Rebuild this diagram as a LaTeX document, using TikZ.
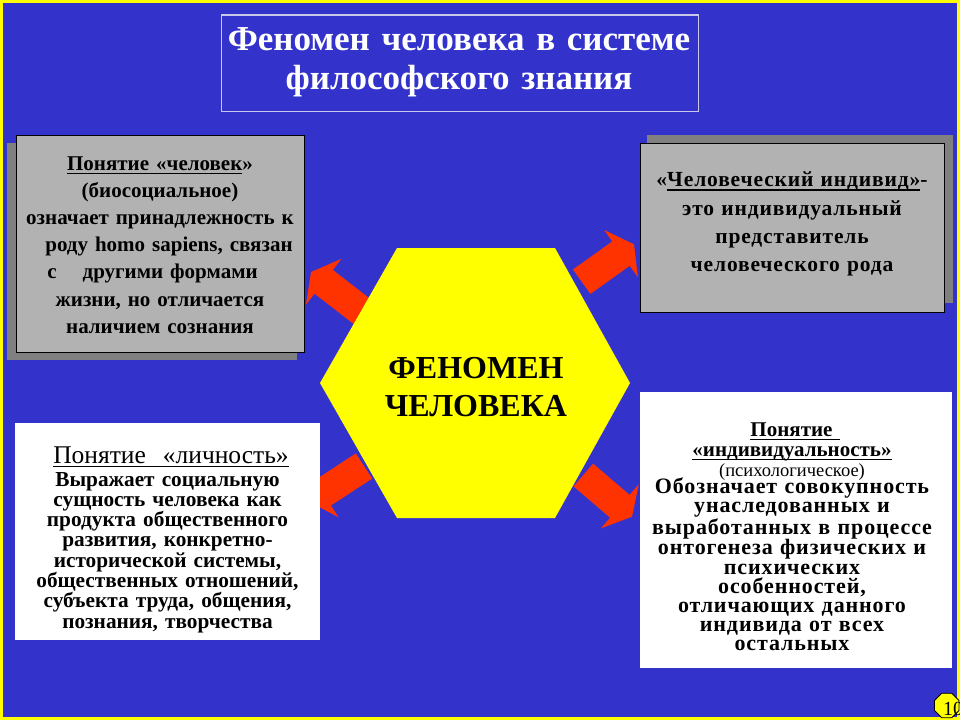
\documentclass[tikz,border=0pt]{standalone}
\usepackage{fontspec}
\setmainfont{Liberation Serif}
\newfontfamily\spc[LetterSpace=4]{Liberation Serif}
\usetikzlibrary{calc,shapes.geometric}
\newcommand\ulx[1]{\leavevmode\setbox0\hbox{#1}\rlap{\rule[-3.8pt]{\wd0}{1.2pt}}\box0}
\definecolor{bgblue}{RGB}{51,51,204}
\definecolor{boxgray}{RGB}{178,178,178}
\definecolor{shadowgray}{RGB}{128,128,128}
\definecolor{arrowred}{RGB}{255,51,0}
\definecolor{titleline}{RGB}{200,200,235}
\definecolor{hexyellow}{RGB}{255,255,0}
\tikzset{
  graybox/.style={fill=boxgray,draw=black,line width=1pt},
  shadowbox/.style={fill=shadowgray},
  whitebox/.style={fill=white},
  txt/.style={anchor=base,align=center,inner sep=0pt,text=black},
  titletxt/.style={txt,text=white,font=\bfseries\fontsize{35}{39}\selectfont,text width=520pt},
}
\newcommand\blkarrow[2]{%
  \coordinate (#1h) at ($(#2)!16pt!(#1)$);
  \fill[arrowred] ($(#1)!15pt!90:(#2)$) -- ($(#1h)!15pt!-90:(#1)$) -- ($(#1h)!29pt!-90:(#1)$)
     -- (#2) -- ($(#1h)!29pt!90:(#1)$) -- ($(#1h)!15pt!90:(#1)$) -- ($(#1)!15pt!-90:(#2)$) -- cycle;
}
\begin{document}
\begin{tikzpicture}[x=1pt,y=-1pt]
\useasboundingbox (0,0) rectangle (960,720);
\fill[bgblue] (0,0) rectangle (960,720);
\draw[hexyellow,line width=3pt] (1.5,1.5) rectangle (958.5,718.5);

% title
\draw[titleline,line width=1.2pt] (221.7,15) rectangle (698.3,111.7);
\node[titletxt] (title) at (459,50) {Феномен человека в системе\\философского знания};

% arrows (under the hexagon)
\coordinate (atlt) at (364,313); \coordinate (atlp) at (311,272);
\coordinate (atrt) at (581.7,281.7); \coordinate (atrp) at (634,244.3);
\coordinate (ablt) at (364,466); \coordinate (ablp) at (309.3,501.7);
\coordinate (abrt) at (583.3,475); \coordinate (abrp) at (632,516.7);
\blkarrow{atlt}{atlp}
\blkarrow{atrt}{atrp}
\blkarrow{ablt}{ablp}
\blkarrow{abrt}{abrp}

% hexagon
\fill[hexyellow] (397,248) -- (555,248) -- (630,383) -- (555,518) -- (397,518) -- (320,383) -- cycle;
\node[txt,font=\bfseries\fontsize{32}{38.3}\selectfont,text width=260pt] (hex) at (476,378.3) {ФЕНОМЕН\\ЧЕЛОВЕКА};

% top-left box
\fill[shadowbox] (7,143) rectangle (297,360);
\draw[graybox] (16,135) rectangle (304,352);
\node[txt,font=\bfseries\fontsize{21}{27.2}\selectfont,text width=300pt] (tl) at (160,170)
 {\ulx{Понятие «человек}»\\(биосоциальное)\\означает принадлежность к\\\hspace*{18pt}роду homo sapiens, связан\\с\kern26pt другими формами\kern15pt\\жизни, но отличается\\наличием сознания};

% top-right box
\fill[shadowbox] (646.7,135) rectangle (952.7,303.3);
\draw[graybox] (640,143.3) rectangle (944.3,312.7);
\node[txt,font=\spc\bfseries\fontsize{21.5}{28.3}\selectfont,text width=300pt] (tr) at (792,186.7)
 {«\ulx{Человеческий индивид»}-\\это индивидуальный\\представитель\\человеческого рода};

% bottom-left box
\fill[whitebox] (15,423.3) rectangle (320,640);
\node[txt,font=\fontsize{25.5}{26}\selectfont,text width=300pt] (blt) at (171,463.5) {\ulx{Понятие\ \ «личность»}};
\node[txt,font=\bfseries\fontsize{21.3}{20.3}\selectfont,text width=300pt] (bl) at (167.5,486)
 {Выражает социальную\\сущность человека как\\продукта общественного\\развития, конкретно-\\исторической системы,\\общественных отношений,\\субъекта труда, общения,\\познания, творчества};

% bottom-right box
\fill[whitebox] (640,391.7) rectangle (952,668.3);
\node[txt,font=\bfseries\fontsize{21}{22}\selectfont,text width=300pt] (brt1) at (795,436) {\ulx{Понятие\ }};
\node[txt,font=\bfseries\fontsize{21}{22}\selectfont,text width=300pt] (brt2) at (792,456) {\ulx{«индивидуальность»}};
\node[txt,font=\fontsize{18.5}{20}\selectfont,text width=300pt] (brs) at (792,476.7) {(психологическое)};
\node[txt,font=\spc\bfseries\fontsize{22}{19.2}\selectfont,text width=300pt] (br) at (792,493.3)
 {Обозначает совокупность\\унаследованных и\\выработанных в процессе\\онтогенеза физических и\\психических\\особенностей,\\отличающих данного\\индивида от всех\\остальных};

% page number
\node[regular polygon,regular polygon sides=8,minimum size=26.4pt,inner sep=0pt,fill=hexyellow,draw=black,line width=0.8pt] (pg) at (946.7,705.5) {};
\node[txt,font=\fontsize{20}{20}\selectfont] (pgnum) at (953,715) {10};
\end{tikzpicture}
\end{document}
